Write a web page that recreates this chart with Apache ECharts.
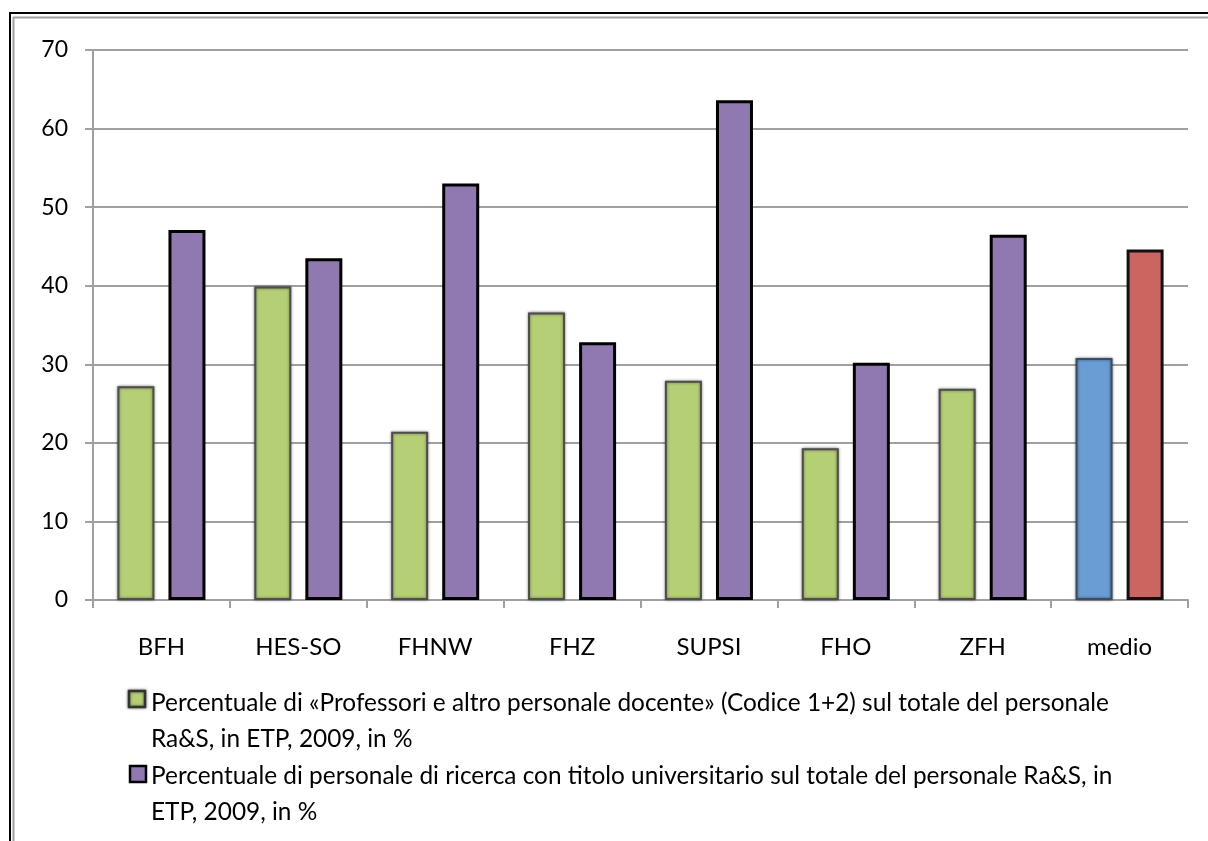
<!DOCTYPE html>
<html>
<head>
<meta charset="utf-8">
<script src="https://cdn.jsdelivr.net/npm/echarts@6/dist/echarts.min.js"></script>
<style>
html,body{margin:0;padding:0;background:#fff;}
#c{width:1208px;height:841px;}
</style>
</head>
<body>
<div id="c"></div>
<script>
var categories = ['BFH','HES-SO','FHNW','FHZ','SUPSI','FHO','ZFH','medio'];
var professori = [27.2, 39.9, 21.4, 36.6, 27.9, 19.3, 26.9, 30.8];
var ricerca = [47.1, 43.5, 53.0, 32.8, 63.6, 30.2, 46.5, 44.6];
var legendNames = [
  'Percentuale di «Professori e altro personale docente» (Codice 1+2) sul totale del personale\nRa&S, in ETP, 2009, in %',
  'Percentuale di personale di ricerca con titolo universitario sul totale del personale Ra&S, in\nETP, 2009, in %'
];
var FONT = 'Lato, "Open Sans", sans-serif';
var green = '#b5cf74', purple = '#9079b0', blue = '#699dd4', red = '#cb6560';

var greenData = professori.map(function(v, i){
  if (i === categories.length - 1) {
    return {value: v, itemStyle: {color: blue, borderColor: '#3b4d60'}};
  }
  return v;
});
var purpleData = ricerca.map(function(v, i){
  if (i === categories.length - 1) {
    return {value: v, itemStyle: {color: red, borderColor: '#111'}};
  }
  return v;
});

var chart = echarts.init(document.getElementById('c'));
chart.setOption({
  animation: false,
  backgroundColor: '#fff',
  grid: {left: 93, right: 20, top: 50, bottom: 241, containLabel: false},
  xAxis: {
    type: 'category',
    data: categories,
    axisLine: {lineStyle: {color: '#a0a0a0', width: 2}},
    axisTick: {show: true, length: 8, lineStyle: {color: '#a0a0a0', width: 2}},
    axisLabel: {color: '#000', fontFamily: FONT, fontSize: 24, margin: 35}
  },
  yAxis: {
    type: 'value',
    min: 0, max: 70, interval: 10,
    axisLine: {show: true, lineStyle: {color: '#a0a0a0', width: 2}},
    axisTick: {show: true, length: 8, lineStyle: {color: '#a0a0a0', width: 2}},
    splitLine: {lineStyle: {color: '#a0a0a0', width: 2}},
    axisLabel: {color: '#000', fontFamily: FONT, fontSize: 23, margin: 25}
  },
  legend: {show: false},
  series: [
    {
      name: legendNames[0], type: 'bar', data: greenData,
      barWidth: 37, barGap: '38%',
      itemStyle: {color: green, borderColor: '#4d4d4d', borderWidth: 2,
        shadowBlur: 3, shadowColor: 'rgba(0,0,0,0.45)'}
    },
    {
      name: legendNames[1], type: 'bar', data: purpleData,
      barWidth: 37,
      itemStyle: {color: purple, borderColor: '#000', borderWidth: 3}
    }
  ],
  graphic: [
    {type: 'line', shape: {x1: 10, y1: 13, x2: 10, y2: 841}, style: {stroke: '#000', lineWidth: 2}},
    {type: 'line', shape: {x1: 9, y1: 13, x2: 1208, y2: 13}, style: {stroke: '#000', lineWidth: 2}},
    {type: 'line', shape: {x1: 13.5, y1: 17, x2: 13.5, y2: 841}, style: {stroke: '#a0a0a0', lineWidth: 2}},
    {type: 'line', shape: {x1: 13, y1: 17.5, x2: 1208, y2: 17.5}, style: {stroke: '#a0a0a0', lineWidth: 2}},
    {type: 'rect', shape: {x: 129, y: 691, width: 16, height: 16},
      style: {fill: green, stroke: '#333', lineWidth: 2.5, shadowBlur: 3, shadowColor: 'rgba(0,0,0,0.5)'}},
    {type: 'text', left: 151, top: 685,
      style: {text: legendNames[0], font: '24.4px ' + FONT, fill: '#000', lineHeight: 36}},
    {type: 'rect', shape: {x: 130, y: 766, width: 16, height: 16},
      style: {fill: purple, stroke: '#000', lineWidth: 2.5}},
    {type: 'text', left: 151, top: 758,
      style: {text: legendNames[1], font: '24.4px ' + FONT, fill: '#000', lineHeight: 36}}
  ]
});
</script>
</body>
</html>
